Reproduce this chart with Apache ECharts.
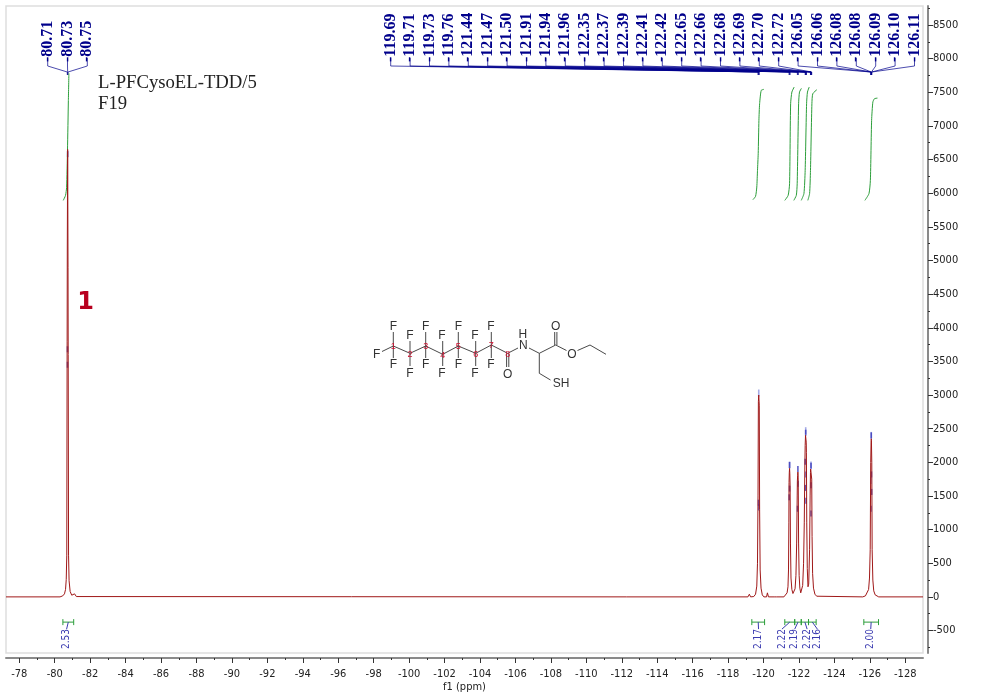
<!DOCTYPE html>
<html>
<head>
<meta charset="utf-8">
<style>
  html, body { margin: 0; padding: 0; background: #fff; }
  #main { width: 993px; height: 696px; }
</style>
</head>
<body>
<div id="main"></div>
<script src="https://cdn.jsdelivr.net/npm/echarts@6/dist/echarts.min.js"></script>
<script>
// axis ticks
const xMajor = [-78, -80, -82, -84, -86, -88, -90, -92, -94, -96, -98, -100, -102, -104, -106, -108, -110, -112, -114, -116, -118, -120, -122, -124, -126, -128]
const xMinor = [-79, -81, -83, -85, -87, -89, -91, -93, -95, -97, -99, -101, -103, -105, -107, -109, -111, -113, -115, -117, -119, -121, -123, -125, -127]
const yMajor = [-500, 0, 500, 1000, 1500, 2000, 2500, 3000, 3500, 4000, 4500, 5000, 5500, 6000, 6500, 7000, 7500, 8000, 8500]
const yMinor = [-750, -250, 250, 750, 1250, 1750, 2250, 2750, 3250, 3750, 4250, 4750, 5250, 5750, 6250, 6750, 7250, 7750, 8250, 8750]

// spectrum trace
const specPpm = [-77.25, -80.3, -80.45, -80.55, -80.61, -80.65, -80.68, -80.7, -80.71, -80.73, -80.75, -80.76, -80.78, -80.81, -80.87, -80.96, -81.06, -81.12, -81.16, -81.22, -81.32,
  -112.28, -112.33, -112.38,
  -119.12, -119.2, -119.27, -119.45, -119.55, -119.62, -119.66, -119.69, -119.71, -119.73, -119.76, -119.78, -119.81, -119.86, -119.93, -120.02, -120.17, -120.22, -120.28, -120.6, -120.67, -120.74,
  -121.15, -121.25, -121.33, -121.38, -121.41, -121.43, -121.44, -121.455, -121.47, -121.485, -121.5, -121.52, -121.55, -121.6, -121.66, -121.72, -121.78, -121.83, -121.87, -121.9, -121.91, -121.925, -121.94, -121.955, -121.96, -121.98, -122.01, -122.05, -122.1, -122.16, -122.21, -122.26, -122.3, -122.33, -122.35, -122.37, -122.39, -122.41, -122.42, -122.44, -122.47, -122.51, -122.55, -122.6, -122.63, -122.65, -122.66, -122.68, -122.7, -122.72, -122.74, -122.77, -122.82, -122.9, -123, -123.1,
  -125.6, -125.75, -125.85, -125.93, -125.98, -126.02, -126.05, -126.07, -126.08, -126.09, -126.11, -126.13, -126.17, -126.22, -126.3, -126.4, -126.5, -129]
const specVal = [0, 0, 15, 45, 110, 260, 620, 3800, 5200, 6650, 4900, 3600, 620, 240, 80, 25, 10, 45, 40, 5, 0,
  0, 25, 0,
  0, 40, 0, 5, 40, 160, 500, 1500, 2900, 3000, 2850, 1300, 400, 130, 30, 0, 0, 60, 0, 0, 28, 0,
  0, 15, 60, 150, 400, 1100, 1700, 1850, 1910, 1830, 1650, 800, 280, 110, 50, 60, 120, 320, 800, 1500, 1720, 1800, 1855, 1780, 1650, 800, 320, 130, 60, 70, 170, 500, 1100, 1900, 2250, 2400, 2380, 2300, 2150, 1100, 420, 150, 190, 700, 1500, 1850, 1900, 1910, 1880, 1750, 900, 350, 130, 40, 10, 0,
  0, 15, 40, 110, 280, 700, 2000, 2300, 2350, 2320, 2000, 700, 250, 90, 30, 8, 0, 0]

// peak-pick marks sitting on the trace
const pickPpm = [-80.73, -80.72, -80.72, -119.72, -119.74, -121.47, -121.47, -121.45, -121.94, -121.95, -121.92, -122.38, -122.35, -122.4, -122.36, -122.4, -122.68, -122.68, -122.68, -126.08, -126.09, -126.1, -126.06]
const pickVal = [6580, 3680, 3450, 1400, 1330, 1960, 1610, 1480, 1900, 1680, 1310, 2440, 2010, 1820, 1620, 1430, 1950, 1660, 1240, 2400, 1820, 1560, 1310]
const tipPpm = [-119.73, -121.47, -122.38, -122.68, -126.08, -126.06]
const tipVal = [3030, 1960, 2470, 1960, 2400, 1730]

// integral curves, null between curves
const integralPpm = [-80.48, -80.61, -80.67, -80.72, -80.77, -80.8, null,
  -119.4, -119.55, -119.62, -119.66, -119.7, -119.74, -119.78, -119.87, -120.02, null,
  -121.2, -121.39, -121.47, -121.53, -121.6, -121.73, null,
  -121.71, -121.85, -121.9, -121.98, -122.03, -122.14, null,
  -122.13, -122.28, -122.35, -122.43, -122.48, -122.58, null,
  -122.5, -122.6, -122.65, -122.73, -122.78, -123.01, null,
  -125.72, -125.95, -126.03, -126.1, -126.17, -126.26, -126.43]
const integralVal = [5893, 5967, 6087, 6635, 7379, 7781, null,
  5903, 5953, 6091, 6339, 6587, 7082, 7330, 7528, 7543, null,
  5893, 5967, 6141, 7330, 7503, 7578, null,
  5893, 5967, 6141, 7330, 7503, 7558, null,
  5893, 5993, 6339, 7330, 7503, 7578, null,
  5893, 5993, 6339, 7330, 7478, 7538, null,
  5893, 5993, 6190, 7082, 7354, 7404, 7413]

// peak labels along the top
const leftPeaks = [-80.71, -80.73, -80.75]
const rightPeaks = [-119.69, -119.71, -119.73, -119.76, -121.44, -121.47, -121.5, -121.91, -121.94, -121.96, -122.35, -122.37, -122.39, -122.41, -122.42, -122.65, -122.66, -122.68, -122.69, -122.7, -122.72, -126.05, -126.06, -126.08, -126.08, -126.09, -126.1, -126.11]

// integral ranges along the bottom
const rangeStart = [-80.46, -119.34, -121.2, -121.76, -122.13, -122.54, -125.66]
const rangeEnd = [-81.07, -120.06, -121.76, -122.13, -122.54, -122.97, -126.49]
const rangeText = ['2.53', '2.17', '2.22', '2.19', '2.22', '2.16', '2.00']
const rangeTextPpm = [-80.67, -119.72, -121.04, -121.76, -122.46, -123.04, -126.05]

const FONT = '"DejaVu Sans Condensed", "DejaVu Sans", sans-serif'
const NAVY = '#00008b'
const BLUE = '#3a3ab0'
const GREEN = '#2c9e3a'

// rotated peak text with its leader down to the real ppm
function renderPeakTag (params, api) {
  const ppm = api.value(0)
  const px = api.coord([ppm, 0])[0]
  const slotX = api.value(1)
  return {
    type: 'group',
    children: [
      {
        type: 'polyline',
        shape: { points: [[slotX, 58], [slotX, 66], [px, 72], [px, 75]] },
        style: { stroke: NAVY, fill: null, lineWidth: 1, opacity: 0.7 }
      },
      {
        type: 'text',
        x: slotX,
        y: 62,
        rotation: Math.PI / 2,
        style: {
          text: ppm.toFixed(2),
          font: 'bold 16px "Liberation Serif", serif',
          fill: NAVY,
          textAlign: 'left',
          textVerticalAlign: 'middle'
        }
      }
    ]
  }
}

// green range bar, stem and rotated value at the bottom
function renderRange (params, api) {
  const y = api.coord([0, -375])[1]
  const x1 = api.coord([api.value(0), 0])[0]
  const x2 = api.coord([api.value(1), 0])[0]
  const tx = api.coord([api.value(2), 0])[0]
  const mid = (x1 + x2) / 2
  const green = { stroke: GREEN, lineWidth: 1 }
  return {
    type: 'group',
    children: [
      { type: 'line', shape: { x1: x1, y1: y, x2: x2, y2: y }, style: green },
      { type: 'line', shape: { x1: x1, y1: y - 3, x2: x1, y2: y + 3 }, style: green },
      { type: 'line', shape: { x1: x2, y1: y - 3, x2: x2, y2: y + 3 }, style: green },
      { type: 'polyline', shape: { points: [[mid, y], [tx, y + 7]] }, style: { stroke: BLUE, fill: null, lineWidth: 1 } },
      {
        type: 'text',
        x: tx,
        y: 649,
        rotation: Math.PI / 2,
        style: {
          text: rangeText[params.dataIndex],
          font: '10px ' + FONT,
          fill: BLUE,
          textAlign: 'left',
          textVerticalAlign: 'middle'
        }
      }
    ]
  }
}

// structure drawing
const INK = '#333'
const molBonds = [
  [393.3, 346, 410, 353.3], [410, 353.3, 425.7, 346], [425.7, 346, 442.7, 354.3], [442.7, 354.3, 458.3, 346],
  [458.3, 346, 475.7, 353.3], [475.7, 353.3, 491.3, 345], [491.3, 345, 507.7, 353.3], [507.7, 353.3, 518, 348],
  [529, 348, 539.3, 353.3], [539.3, 353.3, 555.7, 345], [555.7, 345, 566.5, 350.5], [577.5, 350.5, 590, 345],
  [590, 345, 606, 354.3], [539.3, 353.3, 539.3, 373.3], [539.3, 373.3, 550.5, 380],
  [554.7, 345, 554.7, 332], [556.9, 345, 556.9, 332], [506.6, 353.3, 506.6, 367], [508.8, 353.3, 508.8, 367],
  [393.3, 346, 393.3, 332], [393.3, 346, 393.3, 358], [393.3, 346, 382, 351.5],
  [410, 353.3, 410, 341], [410, 353.3, 410, 366], [425.7, 346, 425.7, 332], [425.7, 346, 425.7, 358],
  [442.7, 354.3, 442.7, 341], [442.7, 354.3, 442.7, 366], [458.3, 346, 458.3, 332], [458.3, 346, 458.3, 358],
  [475.7, 353.3, 475.7, 341], [475.7, 353.3, 475.7, 366], [491.3, 345, 491.3, 332], [491.3, 345, 491.3, 358]
]
const molAtoms = [
  ['F', 393.3, 327], ['F', 393.3, 365], ['F', 376.7, 355], ['F', 410, 336], ['F', 410, 373.3],
  ['F', 425.7, 326.7], ['F', 425.7, 364.3], ['F', 442, 336], ['F', 442, 373.3], ['F', 458.3, 326.7],
  ['F', 458.3, 364.3], ['F', 475, 336], ['F', 475, 373.3], ['F', 491, 326.7], ['F', 491, 364.3],
  ['N', 523.3, 346], ['H', 522.8, 335], ['O', 507.7, 374.2], ['O', 555.7, 327], ['O', 572, 354.5], ['SH', 561, 383.5]
]
const molNumbers = [
  ['1', 393.3, 347], ['2', 410, 354.3], ['3', 425.7, 347], ['4', 442.7, 355.3],
  ['5', 458.3, 347], ['6', 475.7, 354.3], ['7', 491.3, 346], ['8', 507.7, 354.3]
]

const graphics = [
  { type: 'text', x: 98, y: 83, style: { text: 'L-PFCysoEL-TDD/5', font: '18.7px "Liberation Serif", serif', fill: '#222', textVerticalAlign: 'middle' } },
  { type: 'text', x: 98, y: 104, style: { text: 'F19', font: '18.7px "Liberation Serif", serif', fill: '#222', textVerticalAlign: 'middle' } },
  { type: 'text', x: 85.5, y: 303, style: { text: '1', font: 'bold 24px "DejaVu Sans", sans-serif', fill: '#b8001f', textAlign: 'center', textVerticalAlign: 'middle' } }
]
molBonds.forEach(b => {
  graphics.push({ type: 'line', shape: { x1: b[0], y1: b[1], x2: b[2], y2: b[3] }, style: { stroke: INK, lineWidth: 0.9 } })
})
molAtoms.forEach(a => {
  graphics.push({ type: 'text', x: a[1], y: a[2], style: { text: a[0], font: '12px "Liberation Sans", sans-serif', fill: INK, textAlign: 'center', textVerticalAlign: 'middle' } })
})
molNumbers.forEach(n => {
  graphics.push({ type: 'text', x: n[1], y: n[2], style: { text: n[0], font: '9px "Liberation Sans", sans-serif', fill: '#d01030', textAlign: 'center', textVerticalAlign: 'middle' } })
})

const myChart = echarts.init(document.getElementById('main'), null, { renderer: 'canvas' })

const xBase = { type: 'value', inverse: true, min: -129, max: -77.25, position: 'bottom', offset: 5, splitLine: { show: false } }
const yBase = { type: 'value', min: -834, max: 8782, position: 'right', offset: 5, splitLine: { show: false } }

myChart.setOption({
  animation: false,
  backgroundColor: '#fff',
  grid: { left: 6, right: 70, top: 6, bottom: 43, outerBoundsMode: 'none', show: true, backgroundColor: '#fff', borderColor: '#dedede', borderWidth: 1.5 },
  xAxis: [
    {
      ...xBase,
      name: 'f1 (ppm)',
      nameLocation: 'center',
      nameGap: 24,
      nameMoveOverlap: false,
      nameTextStyle: { fontFamily: FONT, fontSize: 11, color: '#222' },
      axisLine: { show: true, onZero: false, lineStyle: { color: '#8a8a8a', width: 2 } },
      axisTick: { show: true, length: 5, customValues: xMajor, lineStyle: { color: '#333' } },
      axisLabel: { show: true, customValues: xMajor, margin: 11, fontFamily: FONT, fontSize: 11, color: '#222', formatter: v => String(v) }
    },
    {
      ...xBase,
      axisLine: { show: false, onZero: false },
      axisTick: { show: true, length: 2, customValues: xMinor, lineStyle: { color: '#333' } },
      axisLabel: { show: false }
    }
  ],
  yAxis: [
    {
      ...yBase,
      axisLine: { show: true, onZero: false, lineStyle: { color: '#8a8a8a', width: 2 } },
      axisTick: { show: true, length: 5, customValues: yMajor, lineStyle: { color: '#333' } },
      axisLabel: { show: true, customValues: yMajor, margin: 5, fontFamily: FONT, fontSize: 11, color: '#222', formatter: v => String(v) }
    },
    {
      ...yBase,
      axisLine: { show: false, onZero: false },
      axisTick: { show: true, length: 2, customValues: yMinor, lineStyle: { color: '#333' } },
      axisLabel: { show: false }
    }
  ],
  series: [
    {
      type: 'line',
      data: integralPpm.map((p, i) => (p === null ? ['-', '-'] : [p, integralVal[i]])),
      showSymbol: false,
      silent: true,
      smooth: 0.2,
      connectNulls: false,
      lineStyle: { color: GREEN, width: 1 }
    },
    {
      type: 'line',
      data: specPpm.map((p, i) => [p, specVal[i]]),
      showSymbol: false,
      silent: true,
      sampling: 'none',
      lineStyle: { color: '#a01818', width: 1 }
    },
    {
      type: 'scatter',
      data: tipPpm.map((p, i) => [p, tipVal[i]]),
      symbol: 'rect',
      symbolSize: [1.6, 7],
      silent: true,
      itemStyle: { color: '#8f96e0' }
    },
    {
      type: 'scatter',
      data: pickPpm.map((p, i) => [p, pickVal[i]]),
      symbol: 'rect',
      symbolSize: [1.6, 6],
      silent: true,
      itemStyle: { color: '#3434b8' }
    },
    {
      type: 'custom',
      data: leftPeaks.map((p, i) => [p, 47.7 + 19.8 * i]).concat(rightPeaks.map((p, i) => [p, 390.7 + 19.4 * i])),
      renderItem: renderPeakTag,
      clip: false,
      silent: true
    },
    {
      type: 'custom',
      data: rangeStart.map((p, i) => [p, rangeEnd[i], rangeTextPpm[i]]),
      renderItem: renderRange,
      clip: false,
      silent: true
    }
  ],
  graphic: graphics
})
</script>
</body>
</html>
